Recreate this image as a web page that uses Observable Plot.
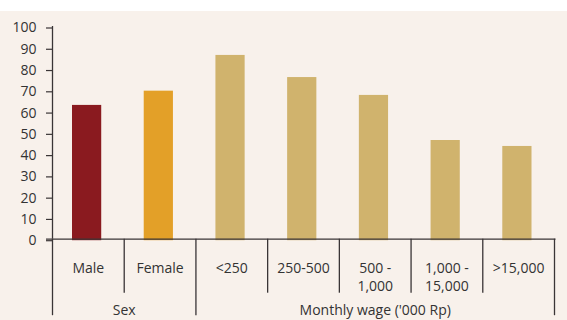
<!DOCTYPE html>
<html>
<head>
<meta charset="utf-8">
<script src="https://cdn.jsdelivr.net/npm/d3@7"></script>
<script src="https://cdn.jsdelivr.net/npm/@observablehq/plot@0.6"></script>
<style>
  html, body { margin: 0; padding: 0; background: #ffffff; }
  #chart { padding-top: 11px; width: 567px; }
  #chart svg { display: block; background: #f8f1eb; }
</style>
</head>
<body>
<div id="chart"></div>
<script>
// Share (%) by sex and by monthly wage band
const categories = ["Male", "Female", "<250", "250-500", "500 -\n1,000", "1,000 -\n15,000", ">15,000"];
const values = [62.9, 69.6, 86.4, 76.0, 67.6, 46.4, 43.6];
const barColors = ["#8a1a1f", "#e3a028", "#d0b36d", "#d0b36d", "#d0b36d", "#d0b36d", "#d0b36d"];
const groups = ["Sex", "Monthly wage ('000 Rp)"];
const groupSizes = [2, 5];
const yTicks = [0, 10, 20, 30, 40, 50, 60, 70, 80, 90, 100];

const ink = "#3a3536";

const rows = categories.map((c, i) => ({label: c, i, value: values[i], color: barColors[i]}));

// group spans along the index axis
let start = 0;
const groupRows = groups.map((g, k) => {
  const r = {label: g, x1: start, x2: start + groupSizes[k]};
  start += groupSizes[k];
  return r;
});
const groupEdges = [0, ...groupRows.map(g => g.x2)];
const innerEdges = d3.range(1, categories.length).filter(e => !groupEdges.includes(e));

const chart = Plot.plot({
  width: 567,
  height: 309,
  marginLeft: 52,
  marginRight: 13,
  marginTop: 15,
  marginBottom: 81.3,
  style: {fontFamily: "'Open Sans', sans-serif", fontSize: "14px", color: "#333", background: "#f8f1eb"},
  x: {domain: [0, categories.length], axis: null},
  y: {domain: [0, 100], axis: null},
  marks: [
    Plot.rectY(rows, {
      x1: "i", x2: d => d.i + 1, y1: 0, y2: "value", fill: "color",
      insetLeft: 20, insetRight: 22.5, insetBottom: -1.5
    }),
    Plot.axisY({ticks: yTicks, tickSize: 6, tickPadding: 10, stroke: ink, strokeWidth: 1.2,
      fontSize: 14, fill: "#333", dy: 1.5, tickFormat: d => d, label: null}),
    // y axis line
    Plot.ruleX([0], {stroke: ink, strokeWidth: 1.3}),
    // baseline
    Plot.ruleY([0], {stroke: ink, strokeWidth: 1.3, insetLeft: -6, insetRight: -1.5}),
    // short dividers between categories
    Plot.ruleX(innerEdges, {x: d => d, y1: 0, y2: 0, insetBottom: -54, stroke: ink, strokeWidth: 1.3}),
    // long dividers between groups
    Plot.ruleX(groupEdges, {x: d => d, y1: 0, y2: 0, insetBottom: -76.5, stroke: ink, strokeWidth: 1.3}),
    // category labels
    Plot.text(rows, {x: d => d.i + 0.5, y: 0, text: "label", lineAnchor: "top", dy: 21.3,
      lineHeight: 18 / 14, fill: "#333", fontSize: 14}),
    // group labels
    Plot.text(groupRows, {x: d => (d.x1 + d.x2) / 2, y: 0, text: "label", lineAnchor: "top", dy: 66.3,
      fill: "#333", fontSize: 14})
  ]
});

document.getElementById("chart").appendChild(chart);
</script>
</body>
</html>
